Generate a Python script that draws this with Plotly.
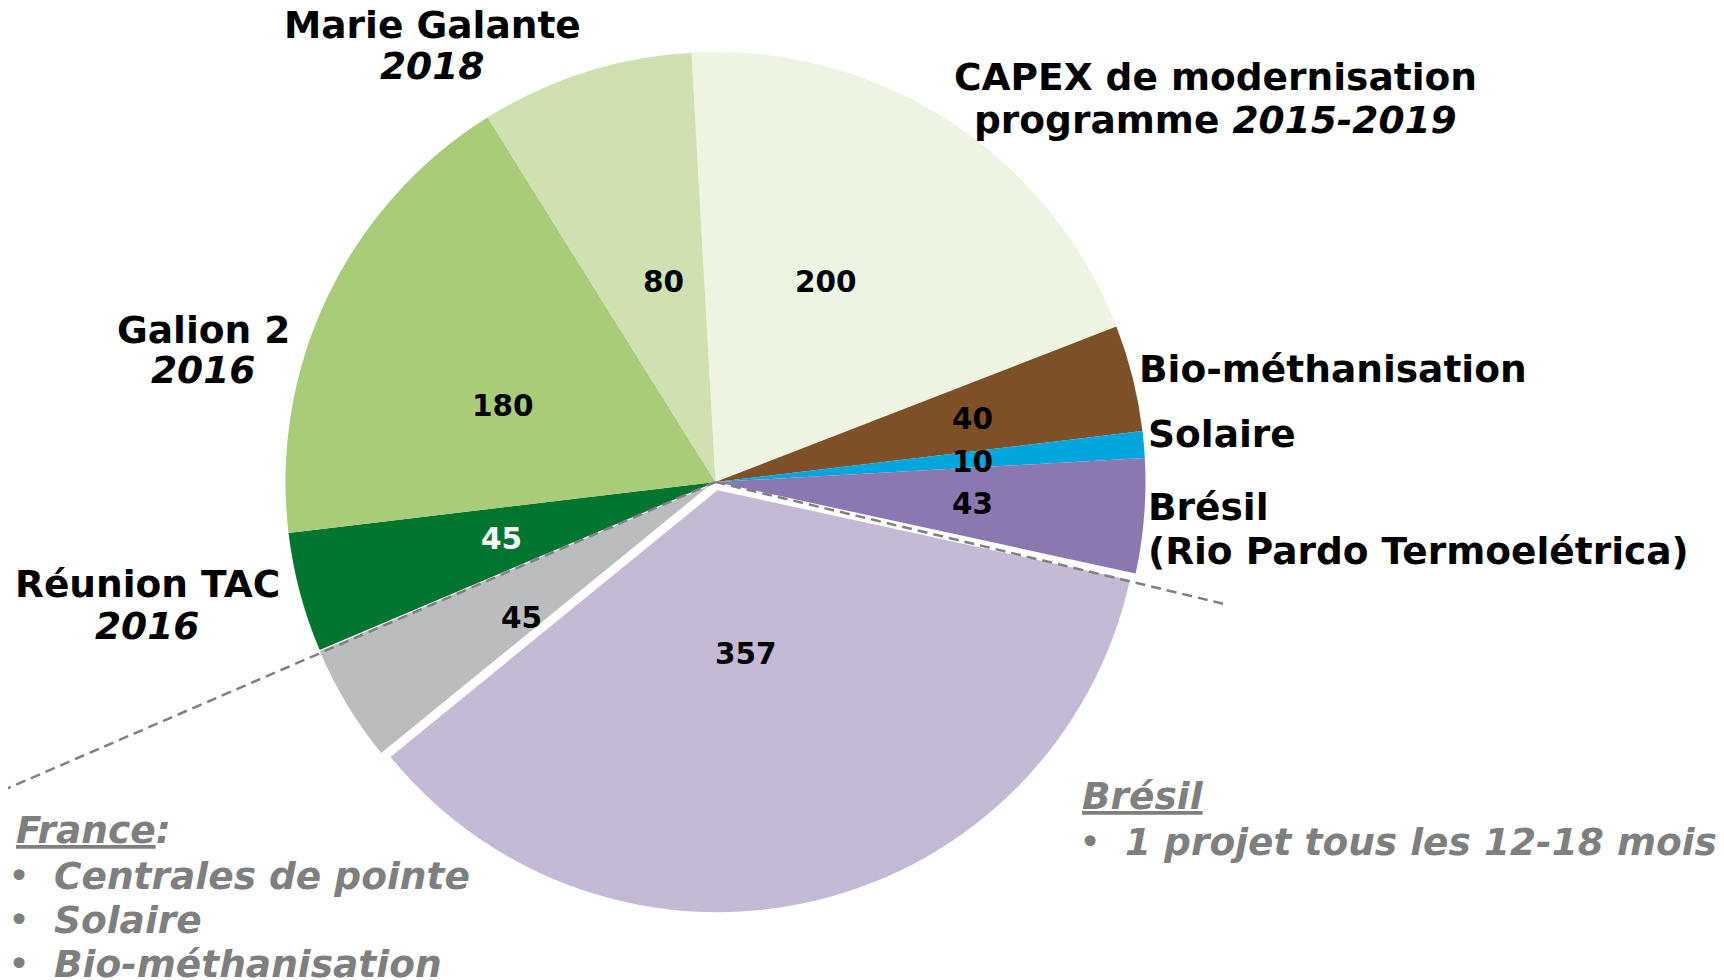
import math
import plotly.graph_objects as go

W, H = 1724, 980
PAGE_MARGIN = 8   # default body margin of the written html page

# ---------------- data ----------------
slice_names = [
    "CAPEX de modernisation programme 2015-2019",
    "Bio-méthanisation",
    "Solaire",
    "Brésil (Rio Pardo Termoelétrica)",
    "Brésil - projets futurs",
    "France - projets futurs",
    "Réunion TAC 2016",
    "Galion 2 2016",
    "Marie Galante 2018",
]
slice_values = [200, 40, 10, 43, 357, 45, 45, 180, 80]

# ---------------- style ----------------
slice_colors = ["#EEF4E2", "#7D5027", "#00A6DC", "#8C78B0", "#C5BAD6",
                "#BBBCBE", "#00752F", "#A9CC78", "#CFE1B1"]
exploded = [False, False, False, False, True, True, False, False, False]
EXPLODE_PULL = 0.02
value_text_colors = ["black", "black", "black", "black", "black",
                     "black", "white", "black", "black"]
# (radial fraction, angular offset in degrees) for the in-slice value labels
value_label_place = [(0.532, -3.8), (0.616, 0.2), (0.6, 0.5), (0.6, 0.4),
                     (0.395, 3.5), (0.542, -4.0), (0.516, 0.0), (0.525, -5.8),
                     (0.481, 3.0)]

START_ANGLE = -3.2          # degrees, clockwise from 12 o'clock
PIE_CX, PIE_CY = 715.5, 482  # screen pixels
PIE_R = 430                  # radius of the main slices
EXPLODED_R = 422             # radius of the exploded slices
FONT = "DejaVu Sans"
LABEL_SIZE = 37.5
VALUE_SIZE = 29.5
NOTE_COLOR = "#7F7F7F"
CLEAR = "rgba(0,0,0,0)"


def px(x):
    return (x - PAGE_MARGIN) / W


def py(y):
    return 1 - (y - PAGE_MARGIN) / H


def domain_for(half):
    return dict(x=[px(PIE_CX - half), px(PIE_CX + half)],
                y=[py(PIE_CY + half), py(PIE_CY - half)])


fig = go.Figure()
# main disc (exploded slices left empty)
fig.add_trace(go.Pie(
    labels=slice_names, values=slice_values, sort=False,
    direction="clockwise", rotation=START_ANGLE,
    marker=dict(colors=[CLEAR if e else c for c, e in zip(slice_colors, exploded)],
                line=dict(width=0)),
    textinfo="none", hoverinfo="label+value", showlegend=False,
    domain=domain_for(PIE_R),
))
# exploded slices, pulled out and slightly smaller
fig.add_trace(go.Pie(
    labels=slice_names, values=slice_values, sort=False,
    direction="clockwise", rotation=START_ANGLE,
    pull=[EXPLODE_PULL if e else 0 for e in exploded],
    marker=dict(colors=[c if e else CLEAR for c, e in zip(slice_colors, exploded)],
                line=dict(width=0)),
    textinfo="none", hoverinfo="skip", showlegend=False,
    domain=domain_for(EXPLODED_R * (1 + EXPLODE_PULL)),
))

# slice geometry derived from the values
total = sum(slice_values)
starts, mids = [], []
acc = START_ANGLE
for v in slice_values:
    starts.append(acc)
    mids.append(acc + 360 * v / total / 2)
    acc += 360 * v / total

annotations = []
for i, v in enumerate(slice_values):
    rho, dth = value_label_place[i]
    r = EXPLODED_R if exploded[i] else PIE_R
    pull_px = EXPLODE_PULL * EXPLODED_R if exploded[i] else 0
    m = math.radians(mids[i])
    ccx = PIE_CX + pull_px * math.sin(m)
    ccy = PIE_CY - pull_px * math.cos(m)
    a = math.radians(mids[i] + dth)
    x = ccx + rho * r * math.sin(a)
    y = ccy - rho * r * math.cos(a)
    annotations.append(dict(
        x=px(x), y=py(y), xref="paper", yref="paper", showarrow=False,
        text=f"<b>{v}</b>", xanchor="center", yanchor="middle",
        font=dict(family=FONT, size=VALUE_SIZE, color=value_text_colors[i]),
    ))

# category labels around the pie
outer_labels = [
    ("<b>Marie Galante</b>", 432, 25, "center"),
    ("<b><i>2018</i></b>", 432, 66, "center"),
    ("<b>CAPEX de modernisation</b>", 1215, 77, "center"),
    ("<b>programme <i>2015-2019</i></b>", 1215, 120, "center"),
    ("<b>Galion 2</b>", 203, 330, "center"),
    ("<b><i>2016</i></b>", 203, 370, "center"),
    ("<b>Réunion TAC</b>", 147, 584, "center"),
    ("<b><i>2016</i></b>", 147, 626, "center"),
    ("<b>Bio-méthanisation</b>", 1137, 369, "left"),
    ("<b>Solaire</b>", 1146, 434, "left"),
    ("<b>Brésil</b>", 1146, 507, "left"),
    ("<b>(Rio Pardo Termoelétrica)</b>", 1146, 551, "left"),
]
for t, x, y, anc in outer_labels:
    annotations.append(dict(
        x=px(x), y=py(y), xref="paper", yref="paper", showarrow=False,
        text=t, xanchor=anc, yanchor="middle",
        font=dict(family=FONT, size=LABEL_SIZE, color="black"),
    ))

NB = "\u00a0"
notes = [
    ("<b><i><u>France</u>:</i></b>", 14, 830),
    (f"•{NB}{NB}<b><i>Centrales de pointe</i></b>", 6, 876),
    (f"•{NB}{NB}<b><i>Solaire</i></b>", 6, 920),
    (f"•{NB}{NB}<b><i>Bio-méthanisation</i></b>", 6, 964),
    ("<b><i><u>Brésil</u></i></b>", 1080, 796),
    (f"•{NB}{NB}<b><i>1 projet tous les 12-18 mois</i></b>", 1077, 842),
]
for t, x, y in notes:
    annotations.append(dict(
        x=px(x), y=py(y), xref="paper", yref="paper", showarrow=False,
        text=t, xanchor="left", yanchor="middle",
        font=dict(family=FONT, size=LABEL_SIZE, color=NOTE_COLOR),
    ))

# dashed separators along the France / Brésil group boundaries
boundary_lines = [(starts[4], 1.2, 522), (starts[6], -0.4, 820)]
shapes = []
for ang, off, length in boundary_lines:
    a = math.radians(ang + off)
    x1 = PIE_CX + length * math.sin(a)
    y1 = PIE_CY - length * math.cos(a)
    shapes.append(dict(
        type="line", xref="paper", yref="paper",
        x0=px(PIE_CX), y0=py(PIE_CY), x1=px(x1), y1=py(y1),
        line=dict(color="#808080", width=2.5, dash="10px,6px"),
    ))

fig.update_layout(
    width=W, height=H,
    margin=dict(l=0, r=0, t=0, b=0),
    paper_bgcolor="white", plot_bgcolor="white",
    annotations=annotations, shapes=shapes,
    font=dict(family=FONT),
)

fig.write_html("out.html")
